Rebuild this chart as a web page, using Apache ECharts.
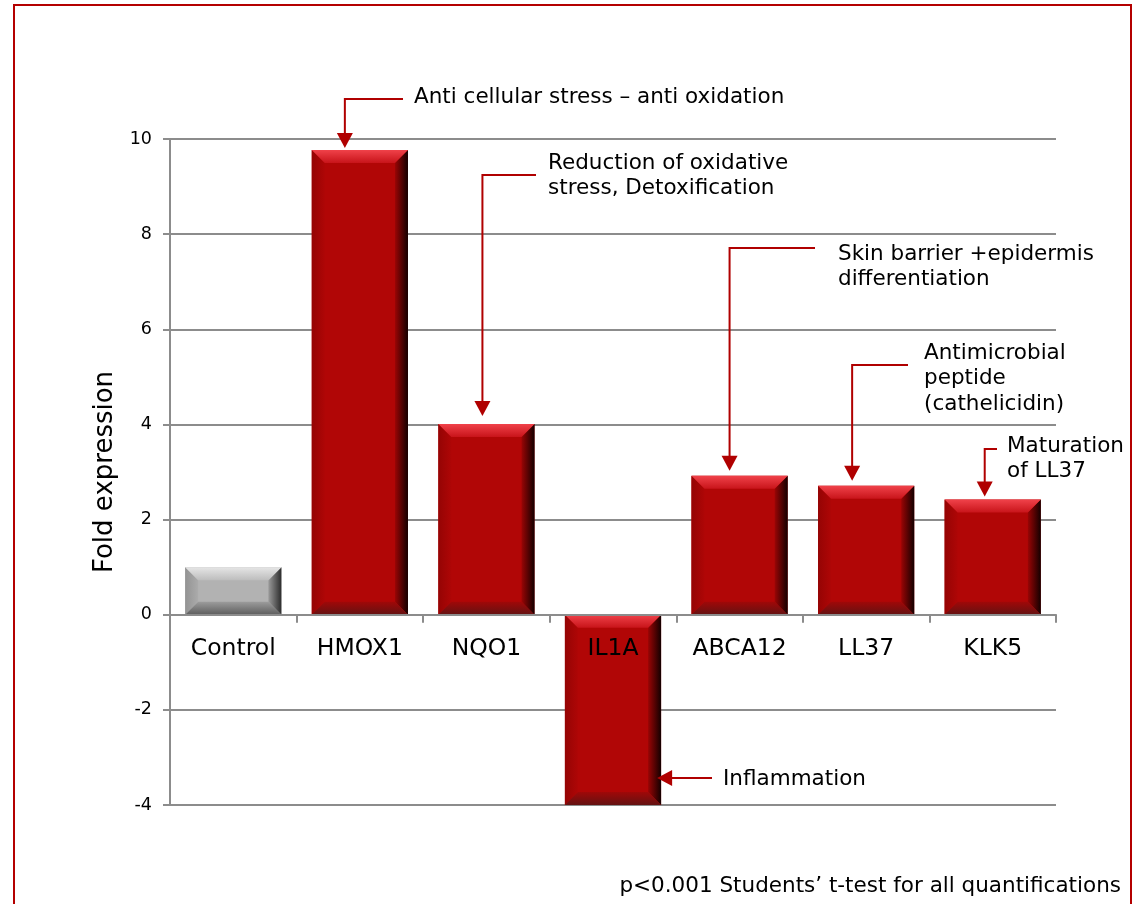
<!DOCTYPE html>
<html>
<head>
<meta charset="utf-8">
<script src="https://cdn.jsdelivr.net/npm/echarts@6/dist/echarts.min.js"></script>
<style>
  html, body { margin: 0; padding: 0; background: #fff; }
  #chart { width: 1138px; height: 904px; }
</style>
</head>
<body>
<div id="chart"></div>
<script>
// Gene expression data
const categories = ['Control', 'HMOX1', 'NQO1', 'IL1A', 'ABCA12', 'LL37', 'KLK5'];
const foldExpression = [1.0, 9.77, 4.01, -4.0, 2.92, 2.71, 2.42];
const yTicks = { min: -4, max: 10, interval: 2 };
const yAxisTitle = 'Fold expression';
const footnote = 'p<0.001 Students\u2019 t-test for all quantifications';

// Annotation texts, keyed by category
const annotationTexts = {
  HMOX1: ['Anti cellular stress \u2013 anti oxidation'],
  NQO1: ['Reduction of oxidative', 'stress, Detoxification'],
  ABCA12: ['Skin barrier +epidermis', 'differentiation'],
  LL37: ['Antimicrobial', 'peptide', '(cathelicidin)'],
  KLK5: ['Maturation', 'of LL37'],
  IL1A: ['Inflammation']
};

// Callout layout (pixel offsets / anchors)
const calloutLayout = {
  HMOX1: { dx: -15, gap: 2, elbowY: 99, lineEnd: 403, textX: 414, textY: 97 },
  NQO1: { dx: -4, gap: 8, elbowY: 175, lineEnd: 536, textX: 548, textY: 163 },
  ABCA12: { dx: -10, gap: 5, elbowY: 248, lineEnd: 815, textX: 838, textY: 254 },
  LL37: { dx: -14, gap: 5, elbowY: 365, lineEnd: 908, textX: 924, textY: 353 },
  KLK5: { dx: -8, gap: 3, elbowY: 449, lineEnd: 997, textX: 1007, textY: 446 },
  IL1A: { side: true, y: 778, tailX: 712, textX: 723, textY: 779 }
};

const FONT = '"DejaVu Sans", Verdana, sans-serif';
const ARROW = '#B00000';
const LINE_H = 25.5;
const NOTE_SIZE = 21.5;
const CAT_SIZE = 23.5;
const BAR_FRAC = 0.76;

const redBevel = {
  face: '#B10606',
  top: ['#F0424A', '#C8141A'],
  left: ['#950404', '#AE0606'],
  right: ['#9A0505', '#140000'],
  bottom: ['#A00808', '#641212']
};
const greyBevel = {
  face: '#B2B2B2',
  top: ['#E6E6E6', '#BDBDBD'],
  left: ['#939393', '#ABABAB'],
  right: ['#9A9A9A', '#2C2C2C'],
  bottom: ['#9C9C9C', '#5E5E5E']
};

function grad(x0, y0, x1, y1, c) {
  return new echarts.graphic.LinearGradient(x0, y0, x1, y1, [
    { offset: 0, color: c[0] }, { offset: 1, color: c[1] }
  ]);
}

function renderBar(params, api) {
  const idx = api.value(0);
  const val = api.value(1);
  const pTop = api.coord([idx, Math.max(val, 0)]);
  const pBot = api.coord([idx, Math.min(val, 0)]);
  const bw = api.size([1, 0])[0] * BAR_FRAC;
  const x0 = pTop[0] - bw / 2, x1 = pTop[0] + bw / 2;
  const yt = pTop[1], yb = pBot[1];
  const b = Math.min(13, (yb - yt) / 2, bw / 2);
  const s = idx === 0 ? greyBevel : redBevel;
  const poly = (pts, fill) => ({ type: 'polygon', shape: { points: pts }, style: { fill: fill, stroke: null } });
  return {
    type: 'group',
    children: [
      { type: 'rect', shape: { x: x0, y: yt, width: bw, height: yb - yt }, style: { fill: s.face } },
      poly([[x0, yt], [x0 + b, yt + b], [x0 + b, yb - b], [x0, yb]], grad(0, 0, 1, 0, s.left)),
      poly([[x1, yt], [x1 - b, yt + b], [x1 - b, yb - b], [x1, yb]], grad(0, 0, 1, 0, s.right)),
      poly([[x0, yt], [x1, yt], [x1 - b, yt + b], [x0 + b, yt + b]], grad(0, 0, 0, 1, s.top)),
      poly([[x0 + b, yb - b], [x1 - b, yb - b], [x1, yb], [x0, yb]], grad(0, 0, 0, 1, s.bottom))
    ]
  };
}

const chart = echarts.init(document.getElementById('chart'), null, { renderer: 'canvas' });

chart.setOption({
  backgroundColor: '#fff',
  animation: false,
  textStyle: { fontFamily: FONT },
  grid: { left: 170, right: 82, top: 139, bottom: 99, containLabel: false },
  xAxis: {
    type: 'category',
    data: categories,
    z: 5,
    axisLine: { onZero: true, lineStyle: { color: '#8C8C8C', width: 2 } },
    axisTick: { show: true, alignWithLabel: false, length: 8, lineStyle: { color: '#8C8C8C', width: 2 } },
    axisLabel: { show: false },
    splitLine: { show: false }
  },
  yAxis: {
    type: 'value',
    min: yTicks.min, max: yTicks.max, interval: yTicks.interval,
    name: yAxisTitle,
    nameLocation: 'middle',
    nameGap: 52,
    nameTextStyle: { color: '#000', fontSize: 26, fontFamily: FONT },
    axisLine: { show: true, lineStyle: { color: '#8C8C8C', width: 2 } },
    axisTick: { show: true, length: 7, lineStyle: { color: '#8C8C8C', width: 2 } },
    axisLabel: { color: '#000', fontSize: 17.5, margin: 18, fontFamily: FONT },
    splitLine: { show: true, lineStyle: { color: '#8C8C8C', width: 2 } }
  },
  series: [{
    type: 'custom',
    renderItem: renderBar,
    encode: { x: 0, y: 1 },
    data: foldExpression.map((v, i) => [i, v]),
    z: 2
  }]
});

// Category labels sit just under the zero line; callout arrows point at the bars
function buildOverlay() {
  const els = [];
  const toPx = (i, v) => chart.convertToPixel({ gridIndex: 0 }, [i, v]);
  const catW = toPx(1, 0)[0] - toPx(0, 0)[0];
  const barHalf = catW * BAR_FRAC / 2;
  const lineStyle = { stroke: ARROW, lineWidth: 2 };
  const head = 8, headLen = 15;

  categories.forEach((c, i) => {
    const p = toPx(i, 0);
    els.push({
      type: 'text', x: p[0], y: p[1] + 34, z: 20,
      style: { text: c, fill: '#000', font: CAT_SIZE + 'px ' + FONT, textAlign: 'center', textVerticalAlign: 'middle' }
    });
  });

  Object.keys(annotationTexts).forEach(name => {
    const i = categories.indexOf(name);
    const lay = calloutLayout[name];
    const lines = annotationTexts[name];
    if (lay.side) {
      const p = toPx(i, 0);
      const tipX = p[0] + barHalf - 4;
      els.push({ type: 'line', shape: { x1: lay.tailX, y1: lay.y, x2: tipX + headLen - 2, y2: lay.y }, style: lineStyle, z: 10 });
      els.push({ type: 'polygon', shape: { points: [[tipX, lay.y], [tipX + headLen, lay.y - head], [tipX + headLen, lay.y + head]] }, style: { fill: ARROW }, z: 10 });
    } else {
      const p = toPx(i, foldExpression[i]);
      const ax = p[0] + lay.dx;
      const tipY = p[1] - lay.gap;
      els.push({ type: 'polyline', shape: { points: [[lay.lineEnd, lay.elbowY], [ax, lay.elbowY], [ax, tipY - headLen + 2]] }, style: Object.assign({ fill: null }, lineStyle), z: 10 });
      els.push({ type: 'polygon', shape: { points: [[ax, tipY], [ax - head, tipY - headLen], [ax + head, tipY - headLen]] }, style: { fill: ARROW }, z: 10 });
    }
    lines.forEach((t, k) => {
      els.push({
        type: 'text', x: lay.textX, y: lay.textY + k * LINE_H, z: 10,
        style: { text: t, fill: '#000', font: NOTE_SIZE + 'px ' + FONT, textAlign: 'left', textVerticalAlign: 'middle' }
      });
    });
  });

  // footnote
  els.push({
    type: 'text', x: 1121, y: 886, z: 10,
    style: { text: footnote, fill: '#000', font: NOTE_SIZE + 'px ' + FONT, textAlign: 'right', textVerticalAlign: 'middle' }
  });

  // frame around the figure
  els.push({
    type: 'rect', shape: { x: 14, y: 5, width: 1117, height: 940 }, z: 0,
    style: { fill: null, stroke: '#B40000', lineWidth: 2 }
  });
  return els;
}

chart.setOption({ graphic: buildOverlay() });
</script>
</body>
</html>
